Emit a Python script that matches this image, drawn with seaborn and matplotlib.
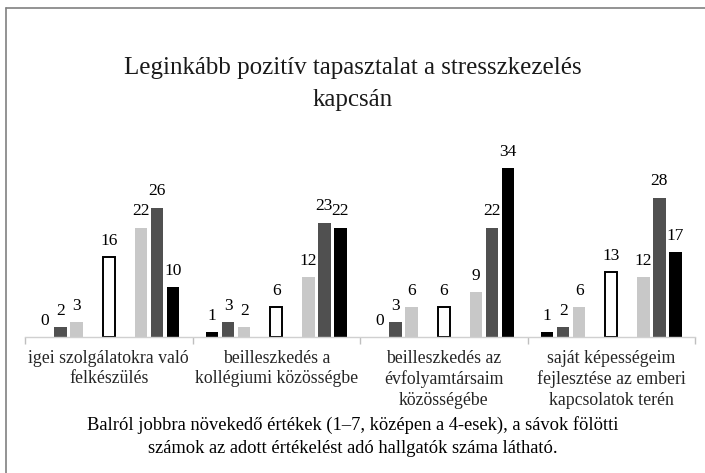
import matplotlib
matplotlib.use("Agg")
import matplotlib.pyplot as plt
import seaborn as sns
import pandas as pd
from matplotlib.lines import Line2D

categories = [
    "igei szolgálatokra való\nfelkészülés",
    "beilleszkedés a\nkollégiumi közösségbe",
    "beilleszkedés az\névfolyamtársaim\nközösségébe",
    "saját képességeim\nfejlesztése az emberi\nkapcsolatok terén",
]
ratings = ["1", "2", "3", "4", "5", "6", "7"]
v1 = [0, 1, 0, 1]
v2 = [2, 3, 3, 2]
v3 = [3, 2, 6, 6]
v4 = [16, 6, 6, 13]
v5 = [22, 12, 9, 12]
v6 = [26, 23, 22, 28]
v7 = [10, 22, 34, 17]
title = "Leginkább pozitív tapasztalat a stresszkezelés\nkapcsán"
caption = ("Balról jobbra növekedő értékek (1–7, középen a 4-esek), a sávok fölötti\n"
           "számok az adott értékelést adó hallgatók száma látható.")

series = [v1, v2, v3, v4, v5, v6, v7]
rows = []
for r, vals in zip(ratings, series):
    for c, v in zip(categories, vals):
        rows.append({"cat": c, "rating": r, "n": v})
df = pd.DataFrame(rows)

hue_order = ["1", "2", "3", "g1", "4", "g2", "5", "6", "7"]
palette = {"1": "#000000", "2": "#505050", "3": "#c8c8c8", "g1": "#ffffff",
           "4": "#ffffff", "g2": "#ffffff", "5": "#c8c8c8", "6": "#505050", "7": "#000000"}

sns.set_theme(style="white")
plt.rcParams["font.family"] = ["Liberation Serif", "DejaVu Serif"]

fig = plt.figure(figsize=(7.05, 4.73), dpi=100)
ax = fig.add_axes([25 / 705, (473 - 337) / 473, 670 / 705, 199 / 473])

sns.barplot(data=df, x="cat", y="n", hue="rating", hue_order=hue_order,
            order=categories, palette=palette, width=0.86, gap=0.22,
            dodge=True, errorbar=None, legend=False, ax=ax, linewidth=0)

for cont in ax.containers:
    for p in cont.patches:
        fc = p.get_facecolor()
        if fc[0] > 0.99 and fc[1] > 0.99 and fc[2] > 0.99:
            p.set_edgecolor("#000000")
            p.set_linewidth(1.4)
    ax.bar_label(cont, fmt="%g", padding=6, fontsize=12.5, color="#000000")

ax.set_ylim(0, 40)
ax.set_xlim(-0.5, 3.5)
ax.set_xlabel("")
ax.set_ylabel("")
ax.set_yticks([])
ax.set_xticks([-0.5, 0.5, 1.5, 2.5, 3.5])
ax.set_xticklabels([])
ax.set_xticks(range(len(categories)), minor=True)
ax.set_xticklabels(categories, minor=True, fontsize=12.8, linespacing=1.27)
ax.tick_params(axis="x", which="major", direction="out", length=5, color="#bfbfbf", width=1, bottom=True)
ax.tick_params(axis="x", which="minor", length=0, pad=9, bottom=False)
for s in ["left", "right", "top"]:
    ax.spines[s].set_visible(False)
ax.spines["bottom"].set_color("#d0d0d0")
ax.spines["bottom"].set_linewidth(1)
ax.set_facecolor("none")

fig.text(0.5, 1 - 84 / 473, title, ha="center", va="center", fontsize=18,
         linespacing=1.55, color="#1a1a1a")
fig.text(0.5, 1 - 436.5 / 473, caption, ha="center", va="center", fontsize=13.3,
         linespacing=1.4, color="#000000")

fig.add_artist(Line2D([6 / 705, 6 / 705], [0, 1 - 8 / 473], transform=fig.transFigure,
                      color="#808080", linewidth=1.2))
fig.add_artist(Line2D([6 / 705, 1], [1 - 8 / 473, 1 - 8 / 473], transform=fig.transFigure,
                      color="#808080", linewidth=1.2))

fig.savefig("out.png", dpi=100)
